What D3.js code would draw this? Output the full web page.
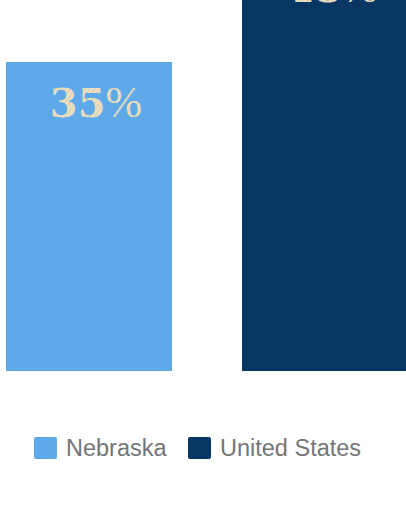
<!DOCTYPE html>
<html>
<head>
<meta charset="utf-8">
<script src="https://cdn.jsdelivr.net/npm/d3@7"></script>
<style>
  html, body { margin: 0; padding: 0; background: #fff; }
  svg { display: block; }
</style>
</head>
<body>
<div id="chart"></div>
<script>
  'use strict';

  const categories = ['Nebraska', 'United States'];
  const values = [35, 48];
  const colors = ['#5DA9EA', '#083763'];

  const width = 406;
  const height = 528;
  const baseY = 371;

  const svg = d3.select('#chart').append('svg')
    .attr('width', width)
    .attr('height', height);

  // hatched cream fill for the value labels
  const defs = svg.append('defs');
  const pat = defs.append('pattern')
    .attr('id', 'hatch')
    .attr('patternUnits', 'userSpaceOnUse')
    .attr('width', 4)
    .attr('height', 4)
    .attr('patternTransform', 'rotate(35)');
  pat.append('rect').attr('width', 4).attr('height', 4).attr('fill', '#F0DEB8');
  pat.append('line')
    .attr('x1', 0).attr('y1', 0).attr('x2', 0).attr('y2', 4)
    .attr('stroke', '#A9C4DC').attr('stroke-width', 1.1);

  const x = d3.scaleBand()
    .domain(categories)
    .range([6, 408])
    .paddingInner(70 / 236)
    .paddingOuter(0);

  const y = d3.scaleLinear()
    .domain([0, 35])
    .range([baseY, baseY - 309]);

  const data = categories.map((c, i) => ({ name: c, value: values[i], color: colors[i] }));

  svg.append('g')
    .selectAll('rect')
    .data(data)
    .join('rect')
    .attr('x', (d) => x(d.name))
    .attr('y', (d) => y(d.value))
    .attr('width', x.bandwidth())
    .attr('height', (d) => baseY - y(d.value))
    .attr('fill', (d) => d.color);

  const labels = svg.append('g')
    .selectAll('text')
    .data(data)
    .join('text')
    .attr('x', (d) => x(d.name) + x.bandwidth() / 2 + 7)
    .attr('y', (d) => y(d.value) + 55)
    .attr('text-anchor', 'middle')
    .attr('font-family', '"DejaVu Serif", serif')
    .attr('font-size', 40)
    .attr('fill', 'url(#hatch)');

  labels.append('tspan')
    .attr('font-weight', 'bold')
    .text((d) => String(d.value));
  labels.append('tspan')
    .attr('font-weight', 'normal')
    .attr('font-family', '"Liberation Serif", serif')
    .attr('font-size', 44)
    .text('%');

  // legend
  const legendItems = [
    { name: categories[0], color: colors[0], x: 34 },
    { name: categories[1], color: colors[1], x: 188 },
  ];
  const legend = svg.append('g');
  const item = legend.selectAll('g')
    .data(legendItems)
    .join('g')
    .attr('transform', (d) => `translate(${d.x},437)`);
  item.append('rect')
    .attr('width', 23)
    .attr('height', 22)
    .attr('rx', 2)
    .attr('fill', (d) => d.color);
  item.append('text')
    .attr('x', 32)
    .attr('y', 19)
    .attr('font-family', '"Liberation Sans", Arial, sans-serif')
    .attr('font-size', 23.5)
    .attr('fill', '#757575')
    .text((d) => d.name);
</script>
</body>
</html>
